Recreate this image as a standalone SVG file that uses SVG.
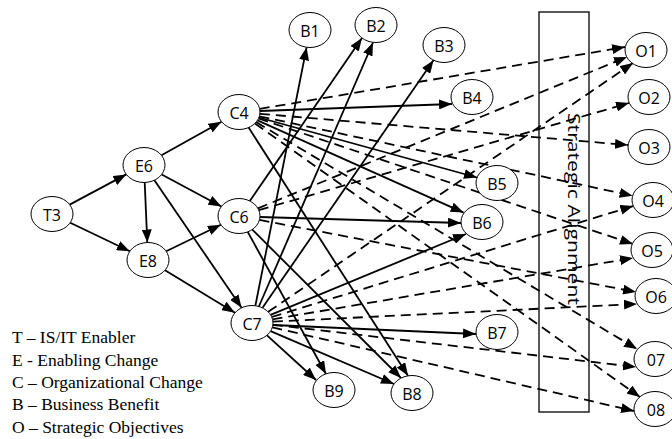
<svg xmlns="http://www.w3.org/2000/svg" width="672" height="439" viewBox="0 0 672 439">
<style>
.n ellipse{fill:#fff;stroke:#000;stroke-width:1}
.n text{font-family:"Open Sans","Noto Sans",sans-serif;font-size:16px;fill:#000;text-anchor:middle;dominant-baseline:central}
.s{stroke:#000;stroke-width:1.8;fill:none;marker-end:url(#ah)}
.d{stroke:#000;stroke-width:1.8;fill:none;stroke-dasharray:10 6;marker-end:url(#ah)}
.lg{font-family:"Liberation Serif","Times New Roman",serif;font-size:17.5px;fill:#000}
</style>
<defs>
<marker id="ah" markerUnits="userSpaceOnUse" markerWidth="13" markerHeight="10" refX="13" refY="5" orient="auto">
<path d="M0,0 L13,5 L0,10 z" fill="#000"/>
</marker>
</defs>
<rect width="672" height="439" fill="#fff"/>
<g id="alignment">
<rect x="539" y="12" width="50" height="400" fill="none" stroke="#000" stroke-width="1.3"/>
<text transform="translate(568,209) rotate(90)" text-anchor="middle" font-family="Open Sans, Noto Sans, sans-serif" font-size="17" textLength="192" lengthAdjust="spacingAndGlyphs">Strategic Alignment</text>
</g>
<g id="connectors">
<line class="s" x1="69.7" y1="204.6" x2="126.3" y2="174.4"/>
<line class="s" x1="70.2" y1="222.7" x2="129.8" y2="251.3"/>
<line class="s" x1="161.5" y1="155.3" x2="221.5" y2="121.7"/>
<line class="s" x1="161.7" y1="174.5" x2="221.4" y2="206.5"/>
<line class="s" x1="144.7" y1="182.5" x2="147.3" y2="242.5"/>
<line class="s" x1="154.4" y1="180.2" x2="241.6" y2="307.8"/>
<line class="s" x1="166.2" y1="251.2" x2="220.8" y2="224.8"/>
<line class="s" x1="165" y1="270.3" x2="235" y2="312.7"/>
<line class="s" x1="260" y1="111" x2="452" y2="104"/>
<line class="s" x1="258.9" y1="117.5" x2="477" y2="177.5"/>
<line class="s" x1="257.5" y1="120.4" x2="463.6" y2="212.6"/>
<line class="s" x1="248.6" y1="127.6" x2="408" y2="375.8"/>
<line class="s" x1="249.8" y1="201" x2="362" y2="38"/>
<line class="s" x1="260" y1="217" x2="461" y2="223"/>
<line class="s" x1="252.3" y1="229.6" x2="401" y2="378"/>
<line class="s" x1="247.7" y1="231.9" x2="326" y2="374"/>
<line class="s" x1="255.4" y1="305.7" x2="306.6" y2="47.3"/>
<line class="s" x1="258.9" y1="306.5" x2="373" y2="42.5"/>
<line class="s" x1="262.5" y1="307.8" x2="433.5" y2="60.2"/>
<line class="s" x1="270.6" y1="314.8" x2="466" y2="234"/>
<line class="s" x1="273" y1="325" x2="476" y2="334"/>
<line class="s" x1="270.6" y1="331.1" x2="394" y2="384"/>
<line class="s" x1="267" y1="335.3" x2="316" y2="380"/>
<line class="d" x1="259.7" y1="108.9" x2="625" y2="47"/>
<line class="d" x1="259.9" y1="113.8" x2="628" y2="145"/>
<line class="d" x1="259.4" y1="116.3" x2="632.6" y2="195.7"/>
<line class="d" x1="258.5" y1="118.5" x2="633" y2="244"/>
<line class="d" x1="256.1" y1="122.1" x2="637" y2="349"/>
<line class="d" x1="255" y1="123.4" x2="640" y2="397"/>
<line class="d" x1="257.9" y1="208.3" x2="627" y2="57"/>
<line class="d" x1="258.8" y1="210.2" x2="629" y2="103"/>
<line class="d" x1="259.5" y1="219.9" x2="636" y2="292"/>
<line class="d" x1="268.2" y1="311.8" x2="633" y2="63"/>
<line class="d" x1="271.7" y1="317" x2="633.3" y2="206"/>
<line class="d" x1="272.5" y1="319.3" x2="633" y2="258"/>
<line class="d" x1="272.9" y1="321.6" x2="637" y2="304"/>
<line class="d" x1="272.9" y1="324.8" x2="636" y2="367"/>
<line class="d" x1="272.3" y1="327.3" x2="634" y2="411"/>
</g>
<g id="T3" class="n"><ellipse cx="52" cy="214" rx="21" ry="17.5"/><text x="52" y="215">T3</text></g>
<g id="E6" class="n"><ellipse cx="144" cy="165" rx="21" ry="17.5"/><text x="144" y="166">E6</text></g>
<g id="E8" class="n"><ellipse cx="148" cy="260" rx="21" ry="17.5"/><text x="148" y="261">E8</text></g>
<g id="C4" class="n"><ellipse cx="239" cy="112" rx="21" ry="17.5"/><text x="239" y="113">C4</text></g>
<g id="C6" class="n"><ellipse cx="239" cy="216" rx="21" ry="17.5"/><text x="239" y="217">C6</text></g>
<g id="C7" class="n"><ellipse cx="252" cy="323" rx="21" ry="17.5"/><text x="252" y="324">C7</text></g>
<g id="B1" class="n"><ellipse cx="310" cy="30" rx="21" ry="17.5"/><text x="310" y="31">B1</text></g>
<g id="B2" class="n"><ellipse cx="376" cy="25" rx="21" ry="17.5"/><text x="376" y="26">B2</text></g>
<g id="B3" class="n"><ellipse cx="444" cy="45" rx="21" ry="17.5"/><text x="444" y="46">B3</text></g>
<g id="B4" class="n"><ellipse cx="472" cy="97" rx="21" ry="17.5"/><text x="472" y="98">B4</text></g>
<g id="B5" class="n"><ellipse cx="497" cy="183" rx="21" ry="17.5"/><text x="497" y="184">B5</text></g>
<g id="B6" class="n"><ellipse cx="482" cy="222" rx="21" ry="17.5"/><text x="482" y="223">B6</text></g>
<g id="B7" class="n"><ellipse cx="497" cy="332" rx="21" ry="17.5"/><text x="497" y="333">B7</text></g>
<g id="B8" class="n"><ellipse cx="412" cy="393" rx="21" ry="17.5"/><text x="412" y="394">B8</text></g>
<g id="B9" class="n"><ellipse cx="334" cy="390" rx="21" ry="17.5"/><text x="334" y="391">B9</text></g>
<g id="O1" class="n"><ellipse cx="646" cy="50" rx="21" ry="17.5"/><text x="646" y="51">O1</text></g>
<g id="O2" class="n"><ellipse cx="649" cy="97" rx="21" ry="17.5"/><text x="649" y="98">O2</text></g>
<g id="O3" class="n"><ellipse cx="649" cy="147" rx="21" ry="17.5"/><text x="649" y="148">O3</text></g>
<g id="O4" class="n"><ellipse cx="653" cy="200" rx="21" ry="17.5"/><text x="653" y="201">O4</text></g>
<g id="O5" class="n"><ellipse cx="652" cy="250" rx="21" ry="17.5"/><text x="652" y="251">O5</text></g>
<g id="O6" class="n"><ellipse cx="656" cy="296" rx="21" ry="17.5"/><text x="656" y="297">O6</text></g>
<g id="O7" class="n"><ellipse cx="655" cy="359" rx="21" ry="17.5"/><text x="656" y="360">07</text></g>
<g id="O8" class="n"><ellipse cx="655" cy="409" rx="21" ry="17.5"/><text x="656" y="410">08</text></g>
<g id="legend" class="lg">
<text x="12" y="343">T – IS/IT Enabler</text>
<text x="12" y="366">E - Enabling Change</text>
<text x="12" y="388">C – Organizational Change</text>
<text x="12" y="410">B – Business Benefit</text>
<text x="12" y="433">O – Strategic Objectives</text>
</g>
</svg>
